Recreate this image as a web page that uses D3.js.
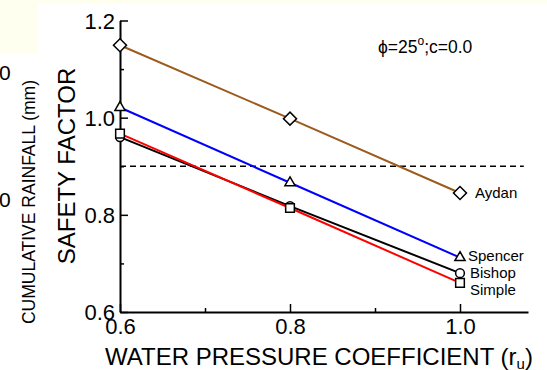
<!DOCTYPE html>
<html>
<head>
<meta charset="utf-8">
<script src="https://cdn.jsdelivr.net/npm/d3@7"></script>
<style>
  body { margin: 0; background: #fff; }
  text { font-family: "Liberation Sans", Arial, sans-serif; fill: #000; }
</style>
</head>
<body>
<div id="chart"></div>
<script>
// data
const ruValues = [0.6, 0.8, 1.0];
const seriesNames = ["Aydan", "Spencer", "Bishop", "Simple"];
const aydan = [1.149, 0.998, 0.845];
const spencer = [1.021, 0.866, 0.712];
const bishop = [0.960, 0.818, 0.680];
const simple = [0.967, 0.814, 0.660];
const majorTicks = [0.6, 0.8, 1.0, 1.2];
const yMinorTicks = [0.7, 0.9, 1.1];
const xMajorTicks = [0.6, 0.8, 1.0];
const xMinorTicks = [0.7, 0.9];
const limitLine = 0.9;

const width = 547, height = 370;

const svg = d3.select("#chart").append("svg")
    .attr("width", width)
    .attr("height", height);

// pale background bits left over from the slide
svg.append("rect").attr("x", 0).attr("y", 0).attr("width", width).attr("height", 4).attr("fill", "#fffff0");
svg.append("rect").attr("x", 0).attr("y", 0).attr("width", 38).attr("height", 53).attr("fill", "#fffff0");

const x = d3.scaleLinear().domain([0.6, 1.08]).range([120, 528]);
const y = d3.scaleLinear().domain([0.6, 1.2]).range([312, 20.5]);

// diamond = square turned 45 degrees
const series = [
    { name: seriesNames[0], values: aydan, color: "#9c5b1c", symbol: d3.symbolSquare, size: 85, rot: 45, dx: 15, dy: 0 },
    { name: seriesNames[1], values: spencer, color: "#0000ff", symbol: d3.symbolTriangle, size: 45, rot: 0, dx: 8, dy: -2 },
    { name: seriesNames[2], values: bishop, color: "#000000", symbol: d3.symbolCircle, size: 60, rot: 0, dx: 10, dy: 0 },
    { name: seriesNames[3], values: simple, color: "#ff0000", symbol: d3.symbolSquare, size: 75, rot: 0, dx: 10, dy: 7 }
];

// axes, ticks pointing inward
const yAxis = svg.append("g")
    .attr("transform", `translate(${x(0.6)},0)`)
    .call(d3.axisLeft(y).tickValues(majorTicks).tickSize(-8).tickSizeOuter(0).tickPadding(5)
        .tickFormat(d3.format(".1f")));
svg.append("g")
    .attr("transform", `translate(${x(0.6)},0)`)
    .call(d3.axisLeft(y).tickValues(yMinorTicks).tickSize(-4).tickSizeOuter(0).tickFormat(""))
    .select(".domain").remove();

const xAxis = svg.append("g")
    .attr("transform", `translate(0,${y(0.6)})`)
    .call(d3.axisBottom(x).tickValues(xMajorTicks).tickSize(-8).tickSizeOuter(0).tickPadding(6)
        .tickFormat(d3.format(".1f")));
svg.append("g")
    .attr("transform", `translate(0,${y(0.6)})`)
    .call(d3.axisBottom(x).tickValues(xMinorTicks).tickSize(-4).tickSizeOuter(0).tickFormat(""))
    .select(".domain").remove();

svg.selectAll(".domain").attr("stroke", "#000").attr("stroke-width", 2);
svg.selectAll(".tick line").attr("stroke", "#000").attr("stroke-width", 1.5);
svg.selectAll(".tick text")
    .style("font-family", "'Liberation Sans', Arial, sans-serif")
    .style("font-size", "22px")
    .attr("fill", "#000");
yAxis.selectAll(".tick text").attr("dy", "0.36em");
xAxis.selectAll(".tick text").attr("dy", "0.72em");

// dashed limit line
svg.append("line")
    .attr("x1", x(0.6)).attr("x2", x(1.075))
    .attr("y1", y(limitLine)).attr("y2", y(limitLine))
    .attr("stroke", "#000")
    .attr("stroke-width", 1.3)
    .attr("stroke-dasharray", "6,4");

const line = d3.line()
    .x((d, i) => x(ruValues[i]))
    .y(d => y(d));

series.forEach(s => {
    svg.append("path")
        .attr("d", line(s.values))
        .attr("fill", "none")
        .attr("stroke", s.color)
        .attr("stroke-width", 2);
});

// markers, drawn after all lines so they sit on top
series.forEach(s => {
    svg.selectAll(null)
        .data(s.values)
        .enter().append("path")
        .attr("transform", (d, i) => `translate(${x(ruValues[i])},${y(d)}) rotate(${s.rot})`)
        .attr("d", d3.symbol().type(s.symbol).size(s.size))
        .attr("fill", "#fff")
        .attr("stroke", "#000")
        .attr("stroke-width", 1.5);

    svg.append("text")
        .attr("x", x(ruValues[2]) + s.dx)
        .attr("y", y(s.values[2]) + s.dy)
        .attr("dy", "0.35em")
        .style("font-size", "15px")
        .text(s.name);
});

// annotation
const note = svg.append("text")
    .attr("x", 378)
    .attr("y", 53)
    .style("font-size", "17.5px");
note.append("tspan").text("\u03d5=25");
note.append("tspan").attr("dy", -8).style("font-size", "12px").text("o");
note.append("tspan").attr("dy", 8).text(";c=0.0");

// axis titles
svg.append("text")
    .attr("transform", "translate(75,166) rotate(-90)")
    .attr("text-anchor", "middle")
    .style("font-size", "24px")
    .text("SAFETY FACTOR");

const xt = svg.append("text")
    .attr("x", 105)
    .attr("y", 365)
    .style("font-size", "24px");
xt.append("tspan").text("WATER PRESSURE COEFFICIENT (r");
xt.append("tspan").attr("dy", 4).style("font-size", "15px").text("u");
xt.append("tspan").attr("dy", -4).text(")");

// remnants of the neighbouring chart on the slide
svg.append("text")
    .attr("transform", "translate(35,202) rotate(-90)")
    .attr("text-anchor", "middle")
    .style("font-size", "17.5px")
    .text("CUMULATIVE RAINFALL (mm)");
svg.append("text").attr("x", -1).attr("y", 80).style("font-size", "21px").text("0");
svg.append("text").attr("x", -1).attr("y", 207).style("font-size", "21px").text("0");
</script>
</body>
</html>
